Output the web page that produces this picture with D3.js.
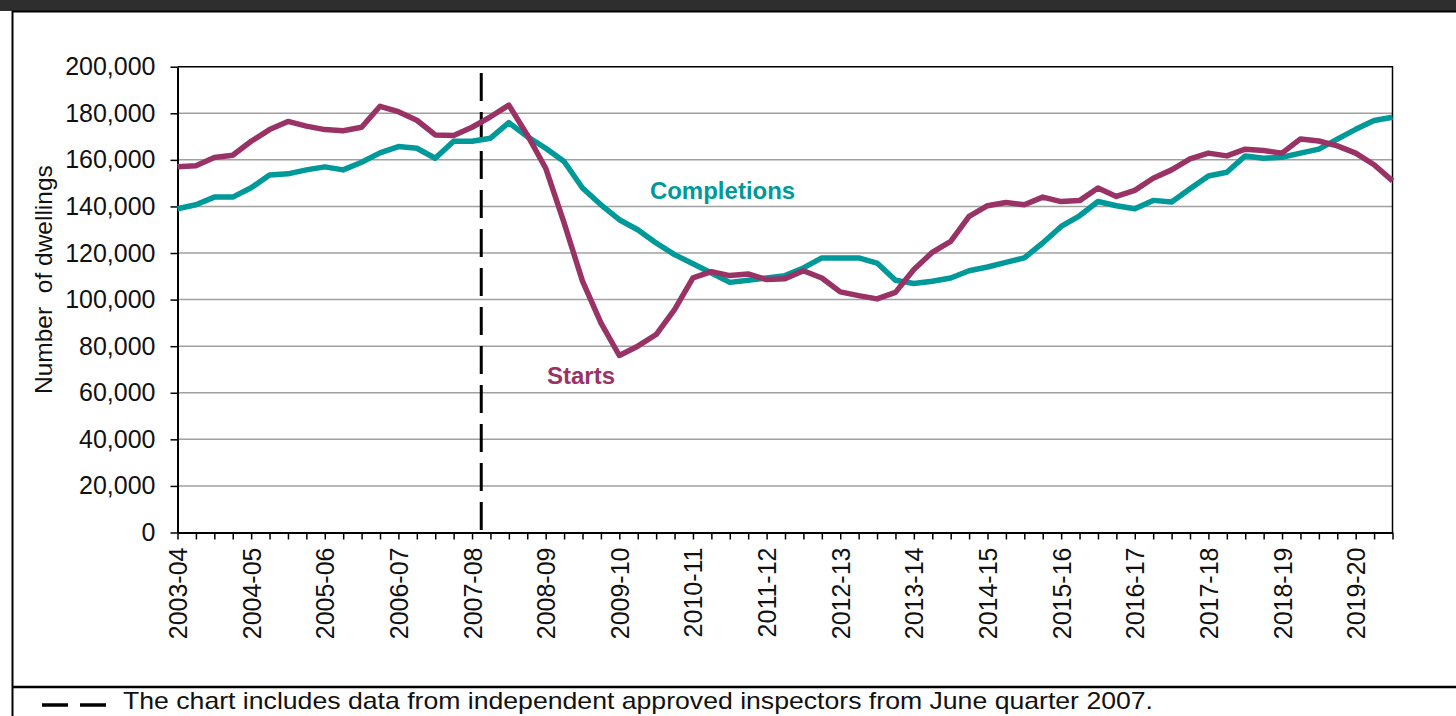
<!DOCTYPE html>
<html>
<head>
<meta charset="utf-8">
<script src="https://d3js.org/d3.v7.min.js"></script>
<style>
  body { margin: 0; background: #fff; }
  svg { display: block; font-family: Arial, "Liberation Sans", sans-serif; }
</style>
</head>
<body>
<svg id="drawing_region"></svg>
<script>
// financial years, one label every 4 quarters
const years = ["2003-04","2004-05","2005-06","2006-07","2007-08","2008-09","2009-10","2010-11",
               "2011-12","2012-13","2013-14","2014-15","2015-16","2016-17","2017-18","2018-19","2019-20"];

// quarterly values (annualised), June quarter 2003 to December quarter 2019
const starts = [157000,157500,161000,162000,168000,173000,176500,174500,173000,172500,
                174000,183000,180700,177000,170700,170500,174000,178500,183500,170700,
                156400,132900,107900,90000,76000,80000,85000,95700,109300,112000,
                110300,111000,108600,109000,112400,109300,103300,101700,100300,103100,
                112900,120300,125000,135700,140300,141700,140700,144000,142100,142500,
                147900,144300,146900,152100,155700,160400,162900,161700,164600,164000,
                162900,169000,168100,166000,162900,157900,151000];

const completions = [139000,140700,144000,144000,148000,153500,154000,155700,157000,155700,
                     159000,163000,165700,165000,160700,168000,168000,169300,176000,170000,
                     165000,159300,147900,140700,134300,130000,124300,119300,115400,111400,
                     107400,108300,109300,110300,113600,117900,117900,117900,115700,108300,
                     106900,107900,109300,112400,114000,116000,117900,124300,131400,136000,
                     142100,140300,139000,142600,141900,147600,153100,154700,161700,160700,
                     161100,162900,164600,168900,173100,176900,178300];

const yTicks = [0,20000,40000,60000,80000,100000,120000,140000,160000,180000,200000];

// series names placed as labels on the chart (quarter index, value at baseline)
const seriesLabels = [
  {name: "Completions", color: "#009999", q: 25.66, v: 143200},
  {name: "Starts",      color: "#993366", q: 20.07, v: 63800}
];

const breakQuarter = 16.5;   // June quarter 2007, start of approved inspector data
const footnote = "The chart includes data from independent approved inspectors from June quarter 2007.";

const width = 1456, height = 716;
const plot = {left: 177.5, right: 1392.5, top: 66.7, bottom: 532.5};

const svg = d3.select("#drawing_region")
    .attr("width", width)
    .attr("height", height);

// frame: dark title strip, left rule, bottom rule
svg.append("rect").attr("x", 0).attr("y", 0).attr("width", width).attr("height", 11).attr("fill", "#2e2e2e");
svg.append("line").attr("x1", 12).attr("x2", width).attr("y1", 11.5).attr("y2", 11.5)
    .attr("stroke", "#000").attr("stroke-width", 2);
svg.append("line").attr("x1", 12.5).attr("x2", 12.5).attr("y1", 11).attr("y2", height)
    .attr("stroke", "#000").attr("stroke-width", 2);
svg.append("line").attr("x1", 12).attr("x2", width).attr("y1", 687).attr("y2", 687)
    .attr("stroke", "#000").attr("stroke-width", 2.5);

const nQ = starts.length;
const x = d3.scaleLinear().domain([0, nQ - 1]).range([plot.left, plot.right]);
const y = d3.scaleLinear().domain([0, 200000]).range([plot.bottom, plot.top]);

// gridlines
svg.append("g")
    .selectAll("line")
    .data(yTicks.filter(d => d > 0 && d < 200000))
    .join("line")
    .attr("x1", plot.left).attr("x2", plot.right)
    .attr("y1", d => y(d)).attr("y2", d => y(d))
    .attr("stroke", "#a0a0a0").attr("stroke-width", 1.5);

// top and right border of plot area
svg.append("path")
    .attr("d", `M${plot.left},${y(200000)}H${plot.right}V${plot.bottom}`)
    .attr("fill", "none").attr("stroke", "#000").attr("stroke-width", 1.5);

// y axis
const yAxis = svg.append("g")
    .attr("transform", `translate(${plot.left},0)`)
    .call(d3.axisLeft(y).tickValues(yTicks).tickFormat(d3.format(",")).tickSize(7).tickSizeOuter(0));
yAxis.select(".domain").attr("stroke", "#000").attr("stroke-width", 2);
yAxis.selectAll(".tick line").attr("stroke", "#000").attr("stroke-width", 1.5);
yAxis.selectAll(".tick text")
    .attr("x", -22)
    .attr("font-size", "25px")
    .attr("font-family", "Arial, 'Liberation Sans', sans-serif")
    .attr("fill", "#111");

// x axis
const xAxis = svg.append("g")
    .attr("transform", `translate(0,${plot.bottom})`)
    .call(d3.axisBottom(x)
        .tickValues(d3.range(nQ))
        .tickFormat(i => i % 4 === 0 ? years[i / 4] : "")
        .tickSize(7).tickSizeOuter(0));
xAxis.select(".domain").attr("stroke", "#000").attr("stroke-width", 2);
xAxis.selectAll(".tick line").attr("stroke", "#000").attr("stroke-width", 1.5);
xAxis.selectAll(".tick text")
    .attr("transform", "rotate(-90)")
    .attr("text-anchor", "end")
    .attr("x", -15)
    .attr("y", 0)
    .attr("dy", "0.36em")
    .attr("font-size", "25px")
    .attr("font-family", "Arial, 'Liberation Sans', sans-serif")
    .attr("fill", "#111");

// y axis title
svg.append("text")
    .attr("transform", `translate(52,${(plot.top + plot.bottom) / 2 - 20}) rotate(-90)`)
    .attr("text-anchor", "middle")
    .attr("font-size", "24.5px")
    .attr("fill", "#111")
    .style("white-space", "pre")
    .text("Number  of dwellings");

// dashed break line
svg.append("line")
    .attr("x1", x(breakQuarter)).attr("x2", x(breakQuarter))
    .attr("y1", y(197300)).attr("y2", y(0))
    .attr("stroke", "#000").attr("stroke-width", 3)
    .attr("stroke-dasharray", "28,11");

// series lines
const line = d3.line().x((d, i) => x(i)).y(d => y(d));
const series = [
  {values: completions, color: "#009999"},
  {values: starts, color: "#993366"}
];
svg.append("g")
    .selectAll("path")
    .data(series)
    .join("path")
    .attr("d", d => line(d.values))
    .attr("fill", "none")
    .attr("stroke", d => d.color)
    .attr("stroke-width", 5.5)
    .attr("stroke-linejoin", "round");

// series labels
svg.append("g")
    .selectAll("text")
    .data(seriesLabels)
    .join("text")
    .attr("x", d => x(d.q))
    .attr("y", d => y(d.v))
    .attr("font-size", "24px")
    .attr("font-weight", "bold")
    .attr("fill", d => d.color)
    .text(d => d.name);

// footnote with dashed key
svg.append("line")
    .attr("x1", 42).attr("x2", 106).attr("y1", 705).attr("y2", 705)
    .attr("stroke", "#000").attr("stroke-width", 3.5)
    .attr("stroke-dasharray", "26,12");
svg.append("text")
    .attr("x", 123).attr("y", 709)
    .attr("font-size", "24px")
    .attr("textLength", 1030)
    .attr("lengthAdjust", "spacingAndGlyphs")
    .attr("fill", "#111")
    .text(footnote);
</script>
</body>
</html>
